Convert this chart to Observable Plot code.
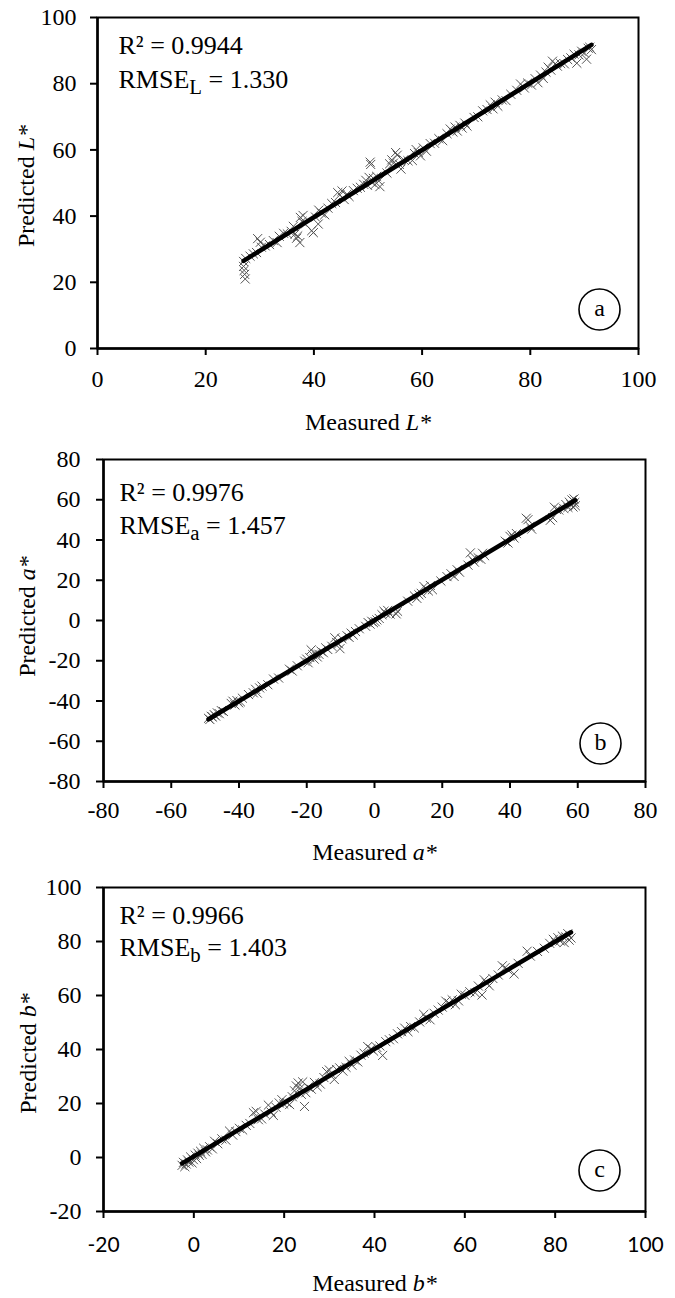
<!DOCTYPE html>
<html>
<head>
<meta charset="utf-8">
<script src="https://cdn.jsdelivr.net/npm/d3@7"></script>
<script src="https://cdn.jsdelivr.net/npm/@observablehq/plot@0.6"></script>
<style>
  body { margin: 0; background: #fff; width: 675px; }
  #chart svg { display: block; }
</style>
</head>
<body>
<div id="chart"></div>
<script>
// ---------- tick values ----------
const ticksL = [0, 20, 40, 60, 80, 100];
const ticksA = [-80, -60, -40, -20, 0, 20, 40, 60, 80];
const ticksB = [-20, 0, 20, 40, 60, 80, 100];

// ---------- labels ----------
const titlesX = [["Measured ", "L*"], ["Measured ", "a*"], ["Measured ", "b*"]];
const titlesY = [["Predicted ", "L*"], ["Predicted ", "a*"], ["Predicted ", "b*"]];
const r2Labels = ["R² = 0.9944", "R² = 0.9976", "R² = 0.9966"];
const rmseLabels = [["RMSE", "L", " = 1.330"], ["RMSE", "a", " = 1.457"], ["RMSE", "b", " = 1.403"]];
const panelTags = ["a", "b", "c"];

// ---------- data: [measured, predicted] ----------
const pointsL = [
  [27.0,26.3],[27.1,23.6],[27.2,22.4],[27.3,21.0],[27.0,24.8],[27.4,27.2],[28.2,27.9],[28.8,28.6],
  [29.4,29.0],[29.6,33.2],[30.1,32.1],[30.3,30.6],[31.0,31.0],[31.8,31.4],[32.5,32.6],[33.2,32.0],
  [33.6,33.9],[34.4,34.8],[35.1,34.6],[35.8,35.4],[36.2,36.9],[36.5,34.6],[36.8,33.3],[37.0,34.0],
  [37.4,32.0],[37.5,39.6],[37.8,38.4],[38.0,40.2],[38.4,37.6],[39.6,35.6],[39.9,35.0],[40.3,39.7],
  [40.8,37.6],[40.9,41.8],[41.4,40.9],[42.0,40.4],[42.6,42.4],[43.3,43.8],[44.0,44.1],[44.4,47.1],
  [44.8,46.4],[45.2,47.6],[45.6,45.0],[46.1,46.6],[46.5,45.9],[47.3,47.7],[48.0,48.4],[48.6,48.7],
  [49.2,49.6],[49.6,50.8],[49.9,49.3],[50.2,51.7],[50.4,56.3],[50.5,55.6],[50.7,50.2],[51.0,51.4],
  [51.3,49.5],[51.6,52.0],[52.0,50.6],[52.2,48.9],[53.5,53.0],[54.0,55.8],[54.4,57.0],[54.7,56.0],
  [55.1,59.2],[55.4,58.4],[55.8,55.6],[56.1,54.2],[56.6,57.0],[57.4,56.7],[58.2,56.8],[58.6,58.9],
  [58.9,60.1],[59.3,59.2],[59.7,58.2],[60.2,60.6],[60.8,59.6],[61.5,61.9],[62.3,62.0],[63.1,63.4],
  [63.8,62.8],[64.6,64.9],[65.2,66.3],[65.7,65.4],[66.1,66.9],[66.5,65.7],[67.0,67.4],[67.4,66.6],
  [67.9,68.1],[68.3,67.2],[69.6,69.8],[70.3,70.0],[71.2,71.8],[72.0,72.2],[72.6,73.6],[73.1,72.4],
  [73.5,74.4],[74.0,73.2],[74.8,75.1],[75.5,74.9],[76.4,76.8],[77.5,78.0],[78.2,79.9],[78.9,78.7],
  [79.5,80.2],[80.2,79.6],[80.9,81.5],[81.4,80.3],[81.9,82.6],[82.4,81.6],[82.9,83.5],[83.3,85.0],
  [83.8,84.1],[84.1,86.8],[84.6,86.0],[85.0,85.3],[85.6,86.1],[86.3,86.0],[86.9,87.3],[87.5,87.8],
  [88.1,88.9],[88.6,86.2],[89.0,88.7],[89.5,89.8],[90.0,89.3],[90.4,87.4],[90.7,90.7],[91.0,91.0],
  [91.3,90.3]
];

const pointsA = [
  [-49.0,-48.6],[-48.6,-49.2],[-48.2,-47.6],[-47.8,-48.0],[-47.3,-46.8],[-46.9,-47.5],[-46.4,-45.9],
  [-45.8,-46.3],[-45.2,-44.8],[-44.6,-45.2],[-42.3,-41.2],[-41.8,-40.1],[-41.2,-42.0],[-40.6,-39.8],
  [-40.1,-40.9],[-39.6,-40.4],[-39.0,-38.6],[-37.2,-36.8],[-35.8,-35.9],[-35.1,-34.2],[-34.6,-36.1],
  [-33.9,-33.5],[-33.2,-32.6],[-31.5,-31.9],[-29.8,-29.1],[-28.3,-28.6],[-25.1,-24.2],[-24.3,-25.1],
  [-22.8,-22.5],[-20.6,-20.2],[-20.0,-19.2],[-19.6,-21.0],[-19.1,-18.4],[-18.7,-14.6],[-18.2,-17.0],
  [-17.8,-19.2],[-17.3,-16.4],[-16.9,-18.1],[-16.4,-16.8],[-15.8,-15.2],[-15.1,-16.0],[-14.4,-13.6],
  [-13.8,-14.4],[-12.6,-12.8],[-11.7,-8.6],[-11.2,-10.9],[-10.6,-11.6],[-10.2,-14.0],[-9.6,-9.1],
  [-8.1,-7.6],[-7.5,-8.4],[-6.9,-6.3],[-6.3,-7.2],[-5.6,-5.5],[-4.5,-4.1],[-2.6,-2.9],[-1.9,-1.0],
  [-1.3,-1.8],[-0.8,-0.4],[-0.3,-1.1],[0.2,-0.6],[0.7,0.3],[1.4,1.0],[2.2,2.9],[2.8,4.6],[3.3,3.6],
  [3.9,5.0],[4.6,3.2],[6.4,3.3],[6.8,4.6],[9.8,9.6],[11.8,12.2],[12.5,11.0],[13.1,12.8],[13.8,13.5],
  [14.6,16.9],[15.2,15.6],[15.9,14.7],[16.5,17.4],[17.1,15.3],[19.6,19.6],[21.4,21.8],[22.6,23.2],
  [23.5,21.9],[24.4,25.2],[25.1,24.0],[27.6,27.5],[28.3,33.6],[28.9,30.2],[29.5,29.0],[30.6,31.2],
  [31.4,30.4],[31.9,33.4],[32.5,32.2],[38.6,39.4],[39.4,38.5],[40.0,41.8],[40.6,42.4],[41.2,41.0],
  [41.9,43.2],[44.8,50.8],[45.3,50.1],[45.9,46.8],[46.4,45.4],[51.9,49.8],[52.6,51.1],[53.1,56.3],
  [53.7,55.2],[54.4,54.9],[55.9,55.6],[56.5,57.6],[57.1,56.2],[57.5,58.8],[58.0,57.5],[58.3,59.9],
  [58.6,56.4],[58.9,60.4],[59.1,58.6],[59.3,57.0]
];

const pointsB = [
  [-2.6,-2.9],[-2.3,-1.8],[-2.0,-3.4],[-1.7,-2.4],[-1.4,-0.9],[-1.1,-1.7],[-0.7,0.2],[-0.4,-2.0],
  [-0.1,-0.8],[0.3,0.9],[0.6,-0.4],[0.9,1.6],[1.2,0.8],[1.5,2.3],[1.8,1.2],[2.2,3.4],[2.6,2.1],
  [3.0,2.8],[3.5,4.0],[4.1,3.2],[4.6,6.0],[5.3,5.1],[6.2,6.9],[7.1,6.4],[7.9,9.8],[8.6,8.3],[9.3,9.6],
  [10.1,10.8],[10.8,10.2],[11.6,11.9],[12.4,12.6],[13.2,16.6],[13.8,17.1],[14.3,14.0],[15.0,14.3],
  [15.7,16.1],[16.5,19.4],[17.1,16.8],[17.6,15.6],[18.2,18.6],[18.9,20.2],[19.5,21.4],[19.9,19.8],
  [20.6,20.3],[21.2,19.6],[21.8,22.5],[22.3,24.7],[22.7,26.5],[23.1,27.6],[23.5,25.6],[23.8,23.4],
  [24.1,28.0],[24.5,18.9],[24.8,24.0],[25.3,26.1],[26.0,25.3],[26.7,27.8],[27.3,26.2],[28.0,27.2],
  [28.8,29.6],[29.4,31.8],[30.0,32.4],[30.5,30.8],[31.1,28.9],[31.6,32.6],[32.3,33.2],[33.0,32.0],
  [33.7,33.4],[34.4,35.6],[35.0,34.2],[35.6,36.1],[36.3,35.4],[37.0,37.9],[37.7,38.6],[38.5,41.1],
  [39.2,40.2],[39.8,39.4],[40.5,40.8],[41.2,41.3],[41.8,37.8],[42.5,42.9],[43.3,43.6],[44.2,44.0],
  [45.1,45.8],[46.0,46.6],[46.7,47.9],[47.4,46.6],[48.0,48.5],[48.8,48.0],[50.0,50.2],[50.9,53.0],
  [51.5,51.6],[52.3,51.0],[53.2,53.4],[54.1,54.6],[55.0,55.7],[55.8,57.9],[56.5,57.2],[57.2,58.4],
  [57.9,56.6],[58.6,58.0],[59.2,60.5],[60.0,60.1],[61.1,61.4],[62.3,61.0],[63.0,63.5],[63.8,60.2],
  [64.3,65.8],[64.8,64.7],[65.4,63.6],[66.2,66.3],[67.4,67.6],[68.3,71.0],[68.9,70.3],[69.6,69.4],
  [70.9,68.0],[71.8,71.9],[73.8,76.4],[74.5,74.6],[76.1,76.3],[77.6,77.5],[78.8,79.3],[79.6,80.8],
  [80.1,79.7],[80.6,81.4],[81.1,80.2],[81.6,82.0],[82.0,79.6],[82.4,81.7],[82.8,82.9],[83.1,80.5],
  [83.5,81.3]
];

// ---------- layout / style of each panel ----------
const SERIF = "'Liberation Serif', 'Times New Roman', serif";
const panels = [
  {points: pointsL, xTicks: ticksL, yTicks: ticksL, height: 440, mt: 17, mb: 92, ml: 97, mr: 37,
   xPad: 14, yPad: 14, xFont: SERIF, xFontSize: 24, xTitleDy: 74, yTitleDx: -64, yTitleDy: 3,
   annDx: 21, r2Dy: 36, rmseDy: 70, tagDx: -39, tagDy: -39},
  {points: pointsA, xTicks: ticksA, yTicks: ticksA, height: 430, mt: 19, mb: 89, ml: 103, mr: 30,
   xPad: 12, yPad: 16, xFont: SERIF, xFontSize: 24, xTitleDy: 71, yTitleDx: -69, yTitleDy: -4,
   annDx: 16, r2Dy: 41, rmseDy: 74, tagDx: -45, tagDy: -38},
  {points: pointsB, xTicks: ticksB, yTicks: ticksB, height: 428, mt: 17, mb: 87, ml: 103, mr: 30,
   xPad: 19, yPad: 15, xFont: "Lato, 'Open Sans', sans-serif", xFontSize: 21, xTitleDy: 72, yTitleDx: -68, yTitleDy: 4,
   annDx: 16, r2Dy: 36, rmseDy: 68, tagDx: -46, tagDy: -41}
];

const fmt = d => String(d);

function enrich(svg, full, parts) {
  d3.select(svg).selectAll("text").filter(function () { return this.textContent === full; })
    .each(function () {
      const t = d3.select(this);
      t.text(null);
      parts.forEach(p => {
        const s = t.append("tspan").text(p.t);
        if (p.italic) s.attr("font-style", "italic");
        if (p.sub) s.attr("font-size", "0.8em").attr("dy", 6);
        if (p.back) s.attr("dy", -6);
      });
    });
}

const chart = document.getElementById("chart");
panels.forEach((p, i) => {
  const xDomain = [p.xTicks[0], p.xTicks[p.xTicks.length - 1]];
  const yDomain = [p.yTicks[0], p.yTicks[p.yTicks.length - 1]];
  const xTitle = titlesX[i].join("");
  const yTitle = titlesY[i].join("");
  const rmse = rmseLabels[i].join("");
  const svg = Plot.plot({
    width: 675,
    height: p.height,
    marginTop: p.mt, marginBottom: p.mb, marginLeft: p.ml, marginRight: p.mr,
    style: {fontFamily: SERIF, fontSize: "24px", color: "black", background: "white", overflow: "visible"},
    x: {domain: xDomain},
    y: {domain: yDomain},
    marks: [
      Plot.dot(p.points, {x: d => d[0], y: d => d[1], symbol: "times", r: 4.2, stroke: "#555", strokeWidth: 1}),
      Plot.linearRegressionY(p.points, {x: d => d[0], y: d => d[1], ci: 0, stroke: "black", strokeWidth: 4.5}),
      Plot.frame({stroke: "black", strokeWidth: 2}),
      Plot.ruleX([xDomain[0]], {stroke: "black", strokeWidth: 2.5}),
      Plot.ruleY([yDomain[0]], {stroke: "black", strokeWidth: 2.5}),
      Plot.axisX({ticks: p.xTicks, tickFormat: fmt, tickSize: 7, tickPadding: p.xPad, strokeWidth: 2,
                  label: null, fontFamily: p.xFont, fontSize: p.xFontSize}),
      Plot.axisY({ticks: p.yTicks, tickFormat: fmt, tickSize: 7, tickPadding: p.yPad, strokeWidth: 2,
                  label: null, fontFamily: SERIF, fontSize: 24}),
      Plot.text([xTitle], {text: d => d, frameAnchor: "bottom", dy: p.xTitleDy, textAnchor: "middle",
                  lineAnchor: "middle", fontSize: 24}),
      Plot.text([yTitle], {text: d => d, frameAnchor: "left", rotate: -90, dx: p.yTitleDx, dy: p.yTitleDy,
                  textAnchor: "middle", lineAnchor: "bottom", fontSize: 24}),
      Plot.text([r2Labels[i]], {text: d => d, frameAnchor: "top-left", dx: p.annDx, dy: p.r2Dy,
                  textAnchor: "start", lineAnchor: "bottom", fontSize: 26}),
      Plot.text([rmse], {text: d => d, frameAnchor: "top-left", dx: p.annDx, dy: p.rmseDy,
                  textAnchor: "start", lineAnchor: "bottom", fontSize: 26}),
      Plot.dot([panelTags[i]], {frameAnchor: "bottom-right", dx: p.tagDx, dy: p.tagDy, r: 20.5,
                  stroke: "black", strokeWidth: 1.6, fill: "white"}),
      Plot.text([panelTags[i]], {text: d => d, frameAnchor: "bottom-right", dx: p.tagDx, dy: p.tagDy - 1,
                  textAnchor: "middle", lineAnchor: "middle", fontSize: 24})
    ]
  });
  // italic variable names, subscript on RMSE
  enrich(svg, xTitle, [{t: titlesX[i][0]}, {t: titlesX[i][1], italic: true}]);
  enrich(svg, yTitle, [{t: titlesY[i][0]}, {t: titlesY[i][1], italic: true}]);
  enrich(svg, rmse, [{t: rmseLabels[i][0]}, {t: rmseLabels[i][1], sub: true}, {t: rmseLabels[i][2], back: true}]);
  chart.appendChild(svg);
});
</script>
</body>
</html>
